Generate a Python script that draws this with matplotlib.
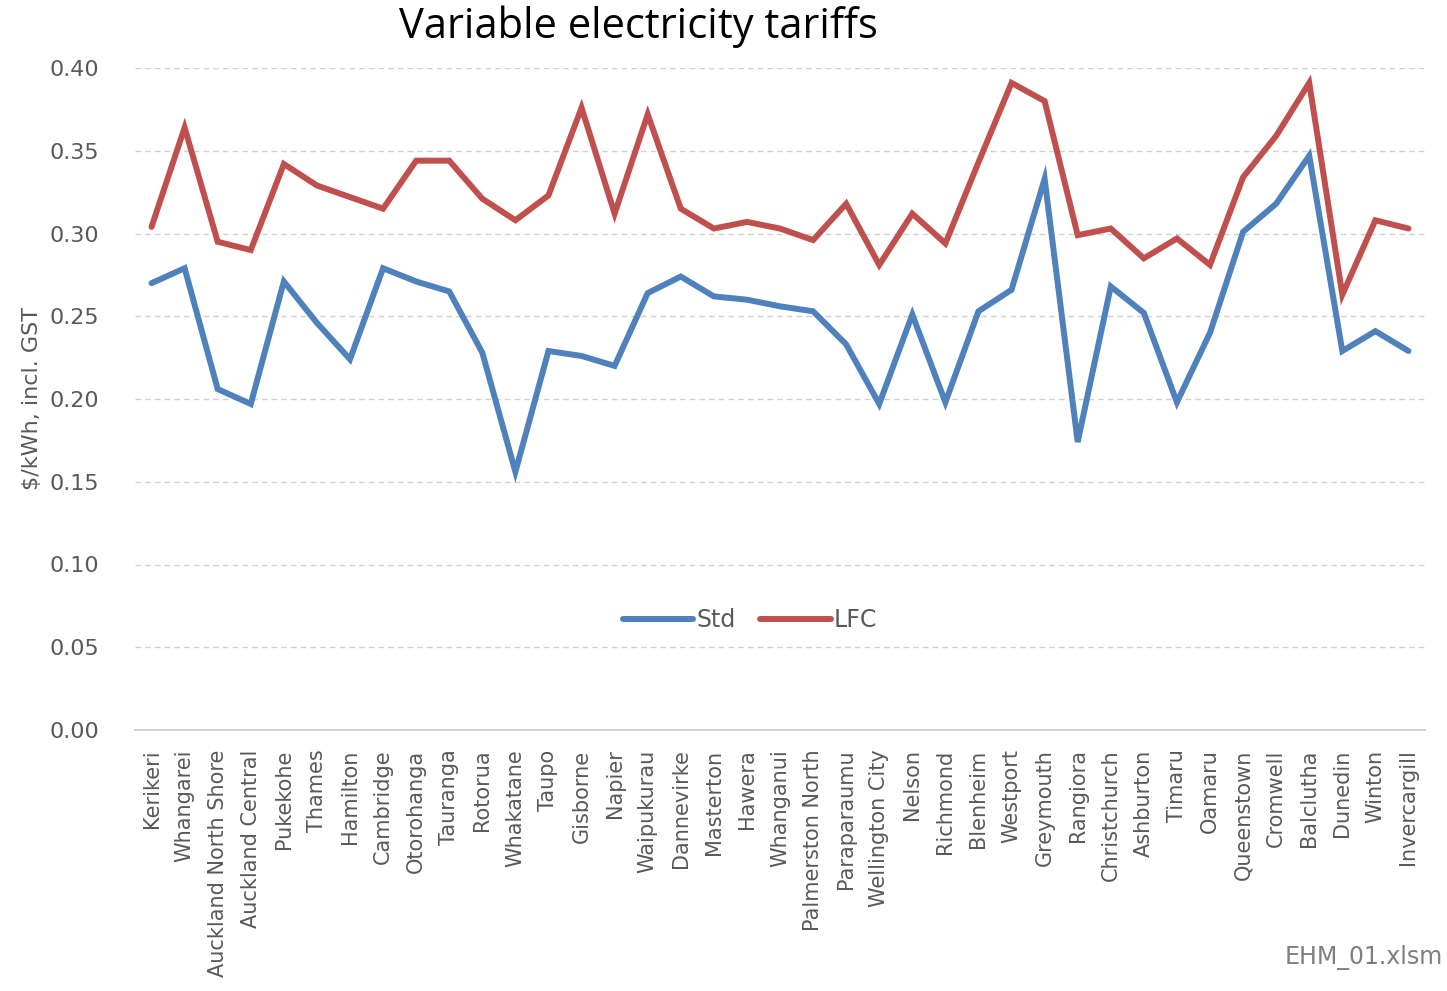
import matplotlib
matplotlib.use("Agg")
import matplotlib.pyplot as plt
import numpy as np

categories = ["Kerikeri", "Whangarei", "Auckland North Shore", "Auckland Central", "Pukekohe",
              "Thames", "Hamilton", "Cambridge", "Otorohanga", "Tauranga", "Rotorua", "Whakatane",
              "Taupo", "Gisborne", "Napier", "Waipukurau", "Dannevirke", "Masterton", "Hawera",
              "Whanganui", "Palmerston North", "Paraparaumu", "Wellington City", "Nelson",
              "Richmond", "Blenheim", "Westport", "Greymouth", "Rangiora", "Christchurch",
              "Ashburton", "Timaru", "Oamaru", "Queenstown", "Cromwell", "Balclutha", "Dunedin",
              "Winton", "Invercargill"]

std = [0.270, 0.279, 0.206, 0.197, 0.271, 0.246, 0.224, 0.279, 0.271, 0.265, 0.228, 0.156,
       0.229, 0.226, 0.220, 0.264, 0.274, 0.262, 0.260, 0.256, 0.253, 0.233, 0.197, 0.251,
       0.198, 0.253, 0.266, 0.333, 0.174, 0.268, 0.252, 0.198, 0.240, 0.301, 0.318, 0.347,
       0.229, 0.241, 0.229]

lfc = [0.304, 0.364, 0.295, 0.290, 0.342, 0.329, 0.322, 0.315, 0.344, 0.344, 0.321, 0.308,
       0.323, 0.376, 0.312, 0.372, 0.315, 0.303, 0.307, 0.303, 0.296, 0.318, 0.281, 0.312,
       0.294, 0.343, 0.391, 0.380, 0.299, 0.303, 0.285, 0.297, 0.281, 0.334, 0.359, 0.391,
       0.263, 0.308, 0.303]

yticks = [0.00, 0.05, 0.10, 0.15, 0.20, 0.25, 0.30, 0.35, 0.40]

W, H = 1447, 991
fig = plt.figure(figsize=(W / 100, H / 100), dpi=100)
ax = fig.add_axes([135 / W, (H - 730) / H, (1425 - 135) / W, (730 - 68) / H])

x = np.arange(len(categories))
ax.plot(x, std, color="#4F81BD", lw=4.3, label="Std", solid_capstyle="round", solid_joinstyle="miter")
ax.plot(x, lfc, color="#C0504D", lw=4.3, label="LFC", solid_capstyle="round", solid_joinstyle="miter")

ax.set_xlim(-0.5, len(categories) - 0.5)
ax.set_ylim(0, 0.40)
ax.set_yticks(yticks)
ax.set_yticklabels([f"{v:.2f}" for v in yticks])
ax.set_xticks(x)
ax.set_xticklabels(categories, rotation=90, va="top", ha="center")

grey = "#595959"
ax.tick_params(axis="y", length=0, pad=26, labelsize=16, labelcolor=grey)
ax.tick_params(axis="x", length=0, pad=14, labelsize=15, labelcolor=grey)
for t in ax.get_yticks():
    if t > 0:
        ax.axhline(t, color="#D0D0D0", lw=1.0, ls=(0, (4, 3)), zorder=0)

for s in ["top", "right", "left"]:
    ax.spines[s].set_visible(False)
ax.spines["bottom"].set_color("#C8C8C8")
ax.spines["bottom"].set_linewidth(1.2)

ax.set_ylabel("$/kWh, incl. GST", fontsize=16, color=grey)
ax.yaxis.set_label_coords(-93 / (1425 - 135), (730 - 398) / (730 - 68))

leg = ax.legend(loc="center", bbox_to_anchor=((750 - 135) / (1425 - 135), (730 - 620) / (730 - 68)),
                ncol=2, frameon=False, fontsize=17, handlelength=3.0, handletextpad=0.15,
                columnspacing=1.0, labelcolor=grey)

fig.text(638 / W, 1 - 27 / H, "Variable electricity tariffs", fontsize=30, family="Open Sans",
         color="black", ha="center", va="center")
fig.text(1443 / W, 1 - 958 / H, "EHM_01.xlsm", fontsize=17, color="#7F7F7F", ha="right", va="center")

fig.savefig("out.png", dpi=100)
